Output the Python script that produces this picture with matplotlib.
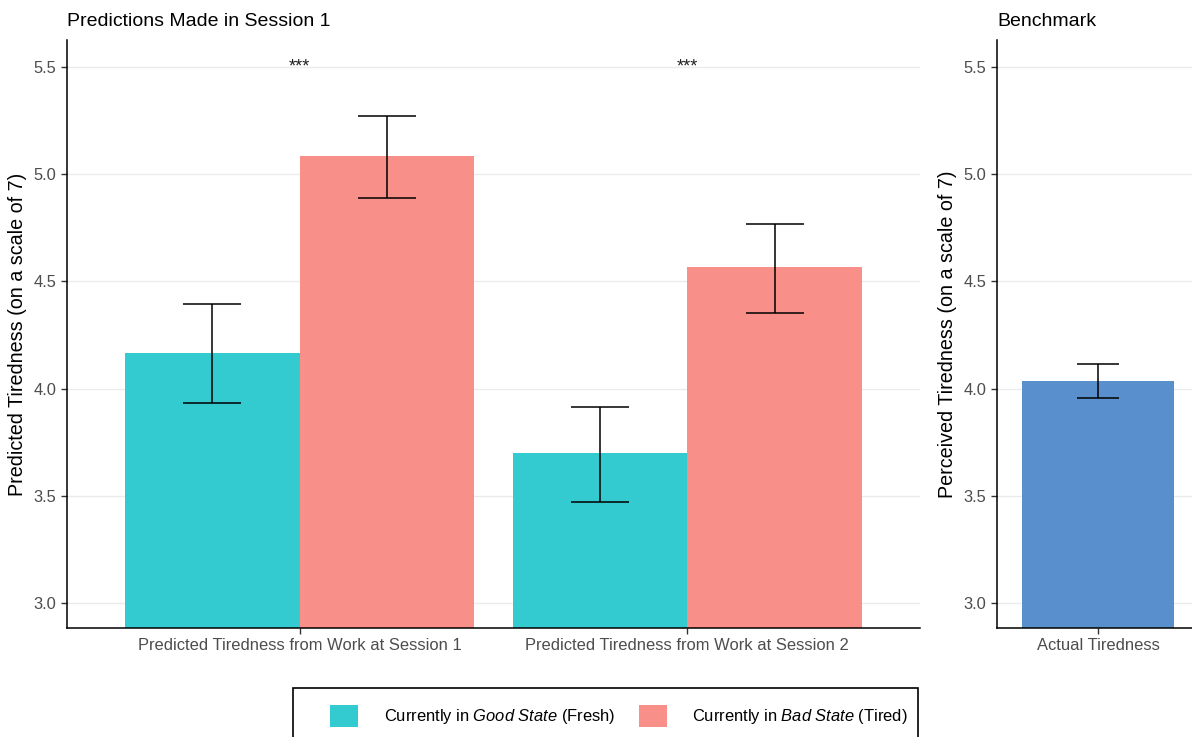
import matplotlib
matplotlib.use("Agg")
import numpy as np
import matplotlib.pyplot as plt
from matplotlib.patches import Patch, Rectangle

plt.rcParams['font.family'] = ['Liberation Sans', 'DejaVu Sans']
plt.rcParams['mathtext.fontset'] = 'custom'
plt.rcParams['mathtext.it'] = 'Liberation Sans:italic'
plt.rcParams['mathtext.rm'] = 'Liberation Sans'

# session-1 predictions, two states per work session
sessions = ["Predicted Tiredness from Work at Session 1",
            "Predicted Tiredness from Work at Session 2"]
good_mean = [4.165, 3.700]
good_lo = [3.933, 3.471]
good_hi = [4.395, 3.914]
bad_mean = [5.085, 4.567]
bad_lo = [4.889, 4.353]
bad_hi = [5.271, 4.768]
stars = ["***", "***"]

# benchmark panel
bench_labels = ["Actual Tiredness"]
bench_mean = [4.035]
bench_lo = [3.956]
bench_hi = [4.115]

c_good = "#33CBD0"
c_bad = "#F98F89"
c_bench = "#588FCC"
grid_c = "#EBEBEB"
tick_c = "#4D4D4D"

fig = plt.figure(figsize=(11.92, 7.37), dpi=100)
ax1 = fig.add_axes([67/1192, 1-628/737, (920-67)/1192, (628-40)/737])
# right panel runs slightly past the figure edge
ax2 = fig.add_axes([997/1192, 1-628/737, (1199-997)/1192, (628-40)/737])

yticks = [3.0, 3.5, 4.0, 4.5, 5.0, 5.5]


def style(ax):
    ax.set_ylim(2.883, 5.626)
    ax.set_yticks(yticks)
    ax.set_yticklabels([f"{t:.1f}" for t in yticks])
    ax.grid(axis='y', color=grid_c, linewidth=1.0)
    ax.set_axisbelow(True)
    for s in ['top', 'right']:
        ax.spines[s].set_visible(False)
    for s in ['left', 'bottom']:
        ax.spines[s].set_linewidth(1.1)
    ax.tick_params(axis='both', colors='#333333', labelcolor=tick_c,
                   labelsize=11.9, length=4, width=1)


x = np.arange(1, len(sessions) + 1)
w = 0.45
ax1.bar(x - w/2, good_mean, width=w, color=c_good)
ax1.bar(x + w/2, bad_mean, width=w, color=c_bad)
for xs, m, lo, hi in [(x - w/2, good_mean, good_lo, good_hi),
                      (x + w/2, bad_mean, bad_lo, bad_hi)]:
    m = np.array(m)
    ax1.errorbar(xs, m, yerr=[m - np.array(lo), np.array(hi) - m],
                 fmt='none', ecolor='black', elinewidth=1.1,
                 capsize=21, capthick=1.1)
for xi, s in zip(x, stars):
    ax1.text(xi, 5.5, s, ha='center', va='center', fontsize=13, color='#222222')
ax1.set_xlim(0.4, 2.6)
ax1.set_xticks(x)
ax1.set_xticklabels(sessions)
style(ax1)
ax1.set_ylabel("Predicted Tiredness (on a scale of 7)", fontsize=14.2, labelpad=5)
ax1.set_title("Predictions Made in Session 1", loc='left', fontsize=14, pad=10)

xb = np.arange(1, len(bench_labels) + 1)
bm = np.array(bench_mean)
ax2.bar(xb, bm, width=0.9, color=c_bench)
ax2.errorbar(xb, bm, yerr=[bm - np.array(bench_lo), np.array(bench_hi) - bm],
             fmt='none', ecolor='black', elinewidth=1.1, capsize=15, capthick=1.1)
ax2.set_xlim(0.4, 1.6)
ax2.set_xticks(xb)
ax2.set_xticklabels(bench_labels)
style(ax2)
ax2.set_ylabel("Perceived Tiredness (on a scale of 7)", fontsize=14.2, labelpad=5)
ax2.set_title("Benchmark", loc='left', fontsize=14, pad=10)

# legend at the bottom, boxed
handles = [Patch(facecolor=c_good, edgecolor='none'),
           Patch(facecolor=c_bad, edgecolor='none')]
labels = [r"Currently in $\it{Good\ State}$ (Fresh)",
          r"Currently in $\it{Bad\ State}$ (Tired)"]
fig.legend(handles, labels, loc='center left',
           bbox_to_anchor=(315/1192, 1-716/737), ncol=2, frameon=False,
           fontsize=11.9, handlelength=1.7, handleheight=1.7,
           handletextpad=1.55, columnspacing=1.45)
fig.patches.append(Rectangle((293/1192, -0.05), (918-293)/1192, 0.05 + 1-688/737,
                             transform=fig.transFigure, fill=False,
                             edgecolor='black', linewidth=1.2))

fig.savefig("out.png", dpi=100)
